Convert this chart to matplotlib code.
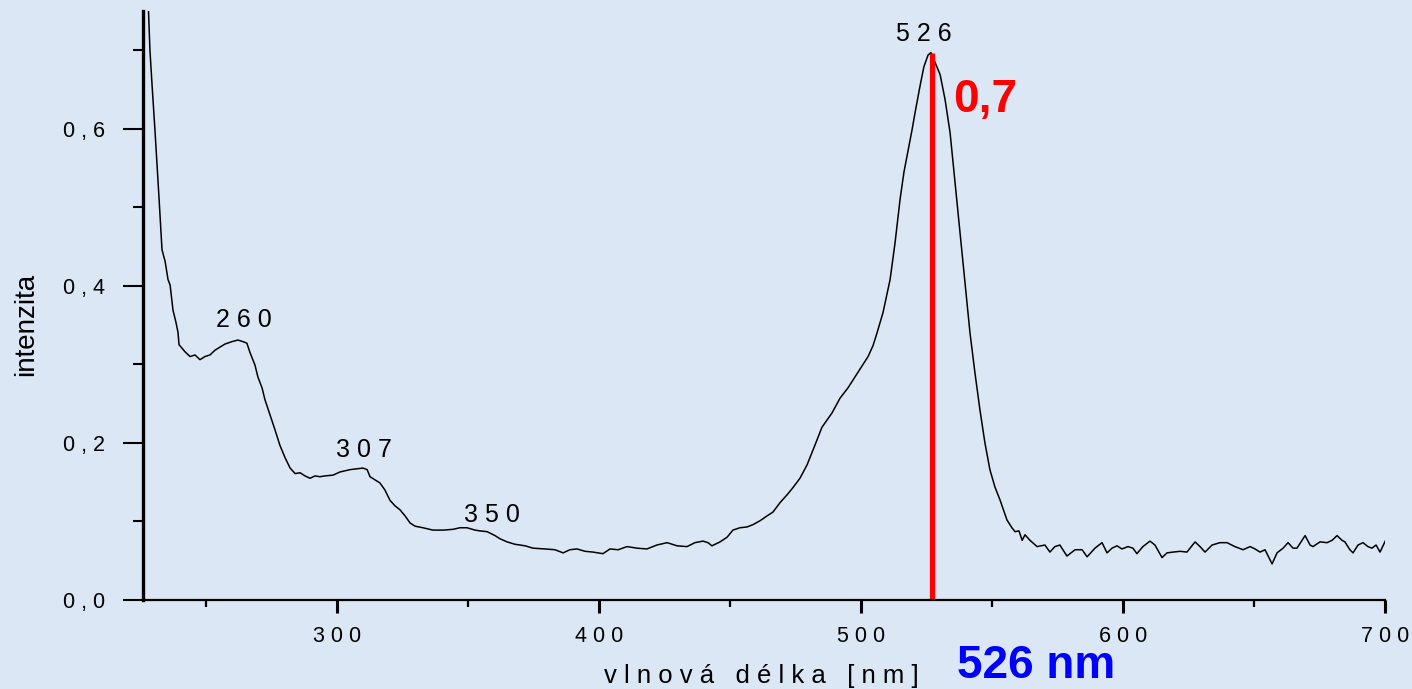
import matplotlib
matplotlib.use("Agg")
import matplotlib.pyplot as plt
from matplotlib.ticker import FixedLocator, FixedFormatter

# ================================
# DATA
# ================================

wavelength_nm = [
    227.5, 228.6, 229.4, 230.5, 232.1, 233.2, 234.4, 235.5, 236.3, 237.4,
    238.5, 239.3, 239.7, 240.5, 242.0, 243.9, 245.8, 247.7, 249.6, 251.5,
    253.4, 255.3, 257.3, 259.9, 262.2, 264.1, 265.6, 266.8, 268.7, 269.8,
    271.4, 272.5, 274.4, 276.3, 278.2, 280.2, 282.1, 284.0, 285.9, 287.8,
    289.7, 291.6, 293.5, 295.4, 298.5, 301.1, 305.0, 307.6, 309.9, 311.5,
    312.6, 314.5, 316.4, 318.3, 320.2, 322.1, 324.0, 326.0, 327.9, 329.8,
    332.8, 336.6, 340.5, 344.3, 346.9, 349.6, 352.7, 354.6, 357.3, 360.3,
    362.2, 364.9, 367.9, 371.8, 374.8, 379.4, 383.2, 386.3, 388.9, 391.6,
    394.7, 397.7, 401.5, 404.2, 407.3, 410.7, 414.5, 418.3, 422.1, 426.0,
    429.8, 433.6, 436.6, 439.7, 441.6, 443.1, 446.2, 448.9, 451.1, 453.8,
    456.5, 458.8, 461.5, 464.1, 466.4, 469.1, 471.8, 474.0, 476.7, 479.4,
    482.4, 485.1, 487.0, 488.9, 492.0, 495.0, 497.7, 500.4, 502.7, 504.6,
    506.1, 508.4, 509.9, 511.1, 513.0, 514.9, 516.4, 518.0, 519.5, 520.6,
    522.5, 524.0, 525.6, 526.7, 528.2, 530.2, 532.1, 534.0, 535.9, 537.8,
    539.7, 541.6, 543.5, 545.4, 547.3, 549.2, 551.1, 553.1, 555.7, 557.6,
    558.8, 560.3, 561.5, 562.6, 564.5, 567.2, 570.2, 572.1, 574.0, 575.9,
    578.6, 581.7, 584.4, 586.3, 589.3, 592.0, 593.9, 595.8, 597.7, 599.6,
    601.9, 603.8, 605.3, 607.6, 610.3, 612.2, 614.9, 616.8, 619.1, 621.8,
    624.4, 627.5, 629.4, 631.3, 634.0, 637.0, 639.7, 642.7, 645.8, 648.5,
    650.4, 652.3, 654.2, 656.9, 658.8, 661.1, 663.0, 664.9, 666.4, 669.5,
    671.4, 672.5, 675.2, 677.9, 679.8, 681.7, 683.6, 684.7, 686.6, 687.8,
    689.7, 691.6, 693.5, 695.0, 696.6, 698.1, 700.8,
]

intensity = [
    0.800, 0.700, 0.656, 0.599, 0.510, 0.446, 0.431, 0.408, 0.401, 0.369,
    0.354, 0.341, 0.325, 0.322, 0.316, 0.310, 0.312, 0.306, 0.310, 0.312,
    0.318, 0.322, 0.326, 0.329, 0.331, 0.329, 0.327, 0.315, 0.299, 0.284,
    0.270, 0.255, 0.236, 0.217, 0.197, 0.181, 0.168, 0.161, 0.162, 0.158,
    0.155, 0.158, 0.157, 0.158, 0.159, 0.163, 0.166, 0.167, 0.168, 0.166,
    0.157, 0.153, 0.149, 0.140, 0.127, 0.120, 0.115, 0.107, 0.098, 0.094,
    0.092, 0.089, 0.089, 0.090, 0.092, 0.092, 0.089, 0.088, 0.087, 0.082,
    0.078, 0.074, 0.071, 0.069, 0.066, 0.065, 0.064, 0.060, 0.064, 0.065,
    0.062, 0.061, 0.059, 0.065, 0.064, 0.068, 0.066, 0.065, 0.070, 0.073,
    0.069, 0.068, 0.073, 0.075, 0.073, 0.069, 0.074, 0.080, 0.089, 0.092,
    0.093, 0.096, 0.101, 0.107, 0.112, 0.124, 0.134, 0.143, 0.155, 0.172,
    0.197, 0.220, 0.229, 0.238, 0.257, 0.270, 0.284, 0.298, 0.310, 0.324,
    0.340, 0.366, 0.389, 0.408, 0.455, 0.510, 0.545, 0.573, 0.599, 0.620,
    0.654, 0.679, 0.694, 0.697, 0.685, 0.669, 0.637, 0.595, 0.531, 0.468,
    0.404, 0.340, 0.289, 0.242, 0.200, 0.166, 0.144, 0.127, 0.102, 0.092,
    0.087, 0.088, 0.076, 0.083, 0.076, 0.068, 0.070, 0.061, 0.068, 0.070,
    0.056, 0.064, 0.064, 0.055, 0.066, 0.073, 0.060, 0.066, 0.069, 0.065,
    0.068, 0.066, 0.059, 0.068, 0.075, 0.070, 0.054, 0.060, 0.061, 0.062,
    0.061, 0.074, 0.068, 0.061, 0.070, 0.073, 0.073, 0.068, 0.064, 0.068,
    0.065, 0.061, 0.064, 0.046, 0.060, 0.066, 0.073, 0.066, 0.066, 0.082,
    0.070, 0.068, 0.074, 0.073, 0.076, 0.082, 0.076, 0.074, 0.064, 0.060,
    0.070, 0.073, 0.068, 0.066, 0.070, 0.061, 0.080,
]

# peak annotations: (label, wavelength, height of label baseline)
peak_labels = ["2 6 0", "3 0 7", "3 5 0", "5 2 6"]
peak_x = [264.5, 310.3, 359.2, 524.0]
peak_y = [0.348, 0.182, 0.099, 0.712]

marker_nm = 527.0
marker_value = 0.697

x_major = [300, 400, 500, 600, 700]
x_minor = [250, 350, 450, 550, 650]
x_labels = ["3 0 0", "4 0 0", "5 0 0", "6 0 0", "7 0 0"]
y_major = [0.0, 0.2, 0.4, 0.6]
y_minor = [0.1, 0.3, 0.5, 0.7]
y_labels = ["0 , 0", "0 , 2", "0 , 4", "0 , 6"]

BG = "#dbe7f4"

# ================================
# PLOT
# ================================

plt.rcParams["font.family"] = ["Liberation Sans", "DejaVu Sans"]

fig = plt.figure(figsize=(14.12, 6.89), dpi=100, facecolor=BG)
ax = fig.add_axes([143 / 1412, 89 / 689, (1385 - 143) / 1412, (600 - 11) / 689])
ax.set_facecolor("none")

ax.plot(wavelength_nm, intensity, color="black", linewidth=1.1)
ax.plot([marker_nm, marker_nm], [0, marker_value], color="#ff0000",
        linewidth=3.8, solid_capstyle="butt")

for label, px, py in zip(peak_labels, peak_x, peak_y):
    ax.text(px, py, label, fontsize=18, ha="center", va="baseline")

ax.text(535.1, 0.622, "0,7", color="#ff0000", fontsize=33,
        fontweight="bold", ha="left", va="baseline")

ax.set_xlim(225.95, 700)
ax.set_ylim(0, 0.75)

for side in ["top", "right"]:
    ax.spines[side].set_visible(False)
ax.spines["left"].set_linewidth(2.4)
ax.spines["bottom"].set_linewidth(1.6)

ax.xaxis.set_major_locator(FixedLocator(x_major))
ax.xaxis.set_major_formatter(FixedFormatter(x_labels))
ax.xaxis.set_minor_locator(FixedLocator(x_minor))
ax.yaxis.set_major_locator(FixedLocator(y_major))
ax.yaxis.set_major_formatter(FixedFormatter(y_labels))
ax.yaxis.set_minor_locator(FixedLocator(y_minor))

ax.tick_params(axis="x", which="major", direction="out", length=9.5,
               width=2.2, labelsize=15.5, pad=9)
ax.tick_params(axis="x", which="minor", direction="out", length=5,
               width=1.6)
ax.tick_params(axis="y", which="major", direction="out", length=14.5,
               width=1.5, labelsize=15.5, pad=13)
ax.tick_params(axis="y", which="minor", direction="out", length=7,
               width=1.5)

fig.text(26 / 1412, 1 - 324 / 689, "intenzita", rotation=90, fontsize=20,
         ha="center", va="center")
fig.text(761 / 1412, 6 / 689, "v l n o v á   d é l k a   [ n m ]",
         fontsize=18.5, ha="center", va="baseline")
fig.text(957 / 1412, 1 / 689, "526 nm", color="#0000ff", fontsize=33,
         fontweight="bold", ha="left", va="bottom")

fig.savefig("out.png", dpi=100, facecolor=BG)
